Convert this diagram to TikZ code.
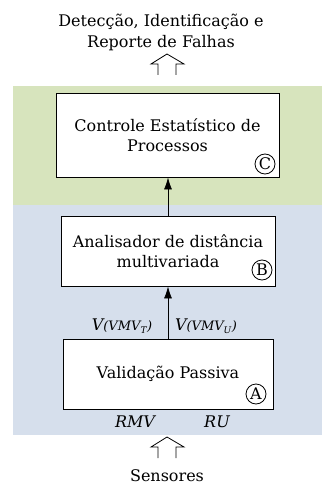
\documentclass[tikz,border=0pt]{standalone}
\usepackage{fontspec}
\setmainfont{DejaVu Serif}
\usetikzlibrary{arrows.meta,positioning}
\definecolor{cepgreen}{HTML}{D7E4BD}
\definecolor{fdblue}{HTML}{D6DFEC}
\newcommand{\txtsize}{\fontsize{16}{20.5}\selectfont}
\newcommand{\lblsize}{\fontsize{13}{15}\selectfont}

\begin{document}
\begin{tikzpicture}[x=1pt, y=-1pt,
    stage/.style={draw, fill=white, line width=0.8pt, align=center, font=\txtsize, inner sep=0pt},
    tag/.style={circle, draw, line width=0.8pt, minimum size=20pt, inner sep=0pt, font=\txtsize},
    flow/.style={-{Latex[length=12pt,width=8pt]}, line width=0.8pt},
    hollow/.style={line width=0.8pt},
    signal/.style={font=\txtsize\itshape}]
    \useasboundingbox (0,0) rectangle (324,484);

    % Layers
    \fill[cepgreen] (13,86) rectangle (322,205);
    \fill[fdblue] (13,205) rectangle (322,435);

    % Stages
    \node[stage, minimum width=223pt, minimum height=84pt] (cep) at (167.5,135) {Controle Estatístico de\\Processos};
    \node[stage, minimum width=214pt, minimum height=70pt] (analisador) at (168,251) {Analisador de distância\\multivariada};
    \node[stage, minimum width=210pt, minimum height=70pt] (validacao) at (168,374) {Validação Passiva};

    % Circled letters
    \node[tag] (tagC) at (265,164) {C};
    \node[tag] (tagB) at (262,270) {B};
    \node[tag] (tagA) at (256,394) {A};

    % Flow arrows
    \draw[flow] (validacao.north) -- (validacao.north |- analisador.south);
    \draw[flow] (analisador.north) -- (analisador.north |- cep.south);

    % Signals
    \node[signal] (vmvt) at (122,326) {V{\lblsize(VMV\textsubscript{T})}};
    \node[signal] (vmvu) at (206,326) {V{\lblsize(VMV\textsubscript{U})}};
    \node[signal] (rmv) at (135,422) {RMV};
    \node[signal] (ru) at (217,422) {RU};

    % Input and output
    \node[font=\txtsize, align=center] (saida) at (161,32.5) {Detecção, Identificação e\\Reporte de Falhas};
    \node[font=\txtsize, anchor=base, inner sep=0pt] (sensores) at (167,481.5) {Sensores};

    % Hollow arrows
    \foreach \y in {54,437} {
        \draw[hollow] (158,\y+21) -- (158,\y+10) -- (151,\y+10) -- (167,\y)
            -- (184,\y+10) -- (176,\y+10) -- (176,\y+21);
    }
\end{tikzpicture}
\end{document}
